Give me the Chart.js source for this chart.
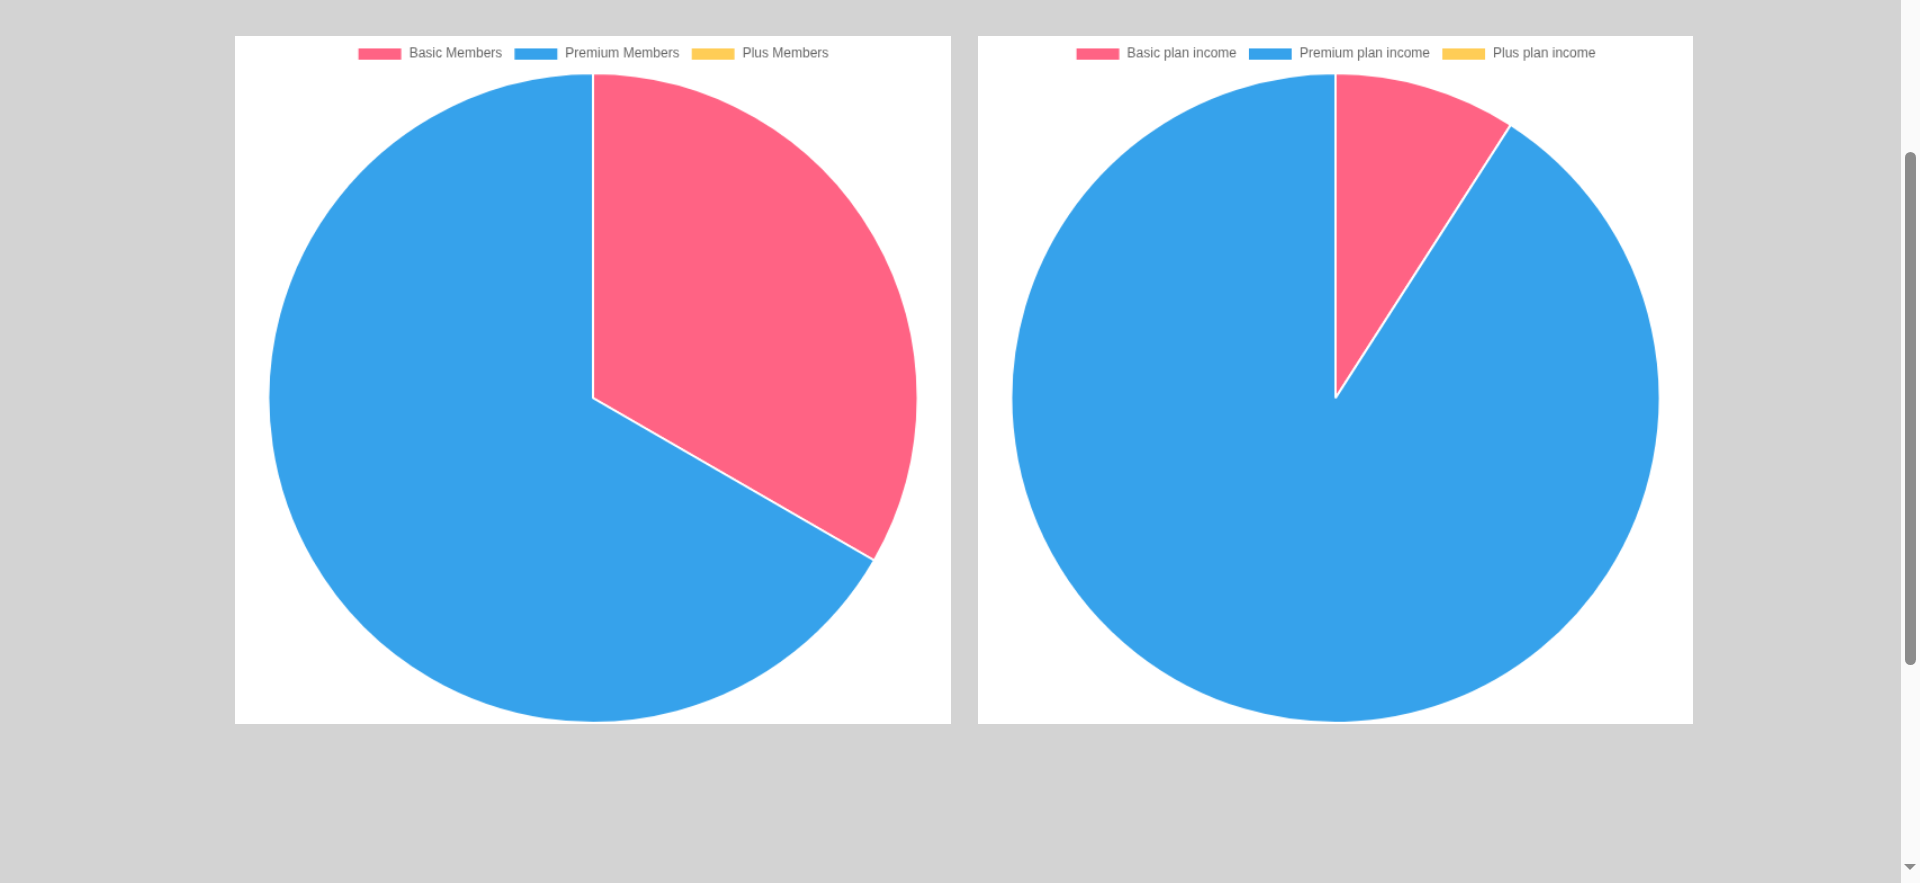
<!DOCTYPE html>
<html>
<head>
<meta charset="utf-8">
<script src="https://cdn.jsdelivr.net/npm/chart.js@4"></script>
<style>
  html, body { margin: 0; padding: 0; background: #d3d3d3; }
  body { height: 1464px; position: relative; }
  .box { position: absolute; background: #fff; width: 716px; height: 688px; top: 270px; }
  #b1 { left: 235px; }
  #b2 { left: 978px; width: 715px; }
  canvas { display: block; width: 716px !important; height: 688px !important; }
  #b2 canvas { width: 715px !important; }
  #sbTrack { position: fixed; right: 0; top: 0; width: 19px; height: 883px; background: #fafafa; }
  #sbThumb { position: fixed; left: 1905px; top: 152px; width: 11px; height: 513px; background: #8b8b8b; border-radius: 6px; }
  #sbArrow { position: fixed; left: 1904px; top: 864px; width: 0; height: 0;
             border-left: 6.5px solid transparent; border-right: 6.5px solid transparent; border-top: 6px solid #8b8b8b; }
</style>
</head>
<body>
<div class="box" id="b1"><canvas id="c1" width="636" height="611"></canvas></div>
<div class="box" id="b2"><canvas id="c2" width="636" height="611"></canvas></div>
<div id="sbTrack"></div><div id="sbThumb"></div><div id="sbArrow"></div>
<script>
const memberLabels = ['Basic Members', 'Premium Members', 'Plus Members'];
const memberValues = [1, 2, 0];
const incomeLabels = ['Basic plan income', 'Premium plan income', 'Plus plan income'];
const incomeValues = [10, 100, 0];
const colors = ['rgb(255, 99, 132)', 'rgb(54, 162, 235)', 'rgb(255, 205, 86)'];

function makePie(id, labels, values) {
  new Chart(document.getElementById(id), {
    type: 'pie',
    data: {
      labels: labels,
      datasets: [{
        data: values,
        backgroundColor: colors,
        borderColor: '#fff',
        borderWidth: 2
      }]
    },
    options: {
      responsive: false,
      animation: false,
      devicePixelRatio: 1,
      plugins: { legend: { position: 'top' }, tooltip: { enabled: false } }
    }
  });
}
makePie('c1', memberLabels, memberValues);
makePie('c2', incomeLabels, incomeValues);
window.scrollTo(0, 234);
</script>
</body>
</html>
